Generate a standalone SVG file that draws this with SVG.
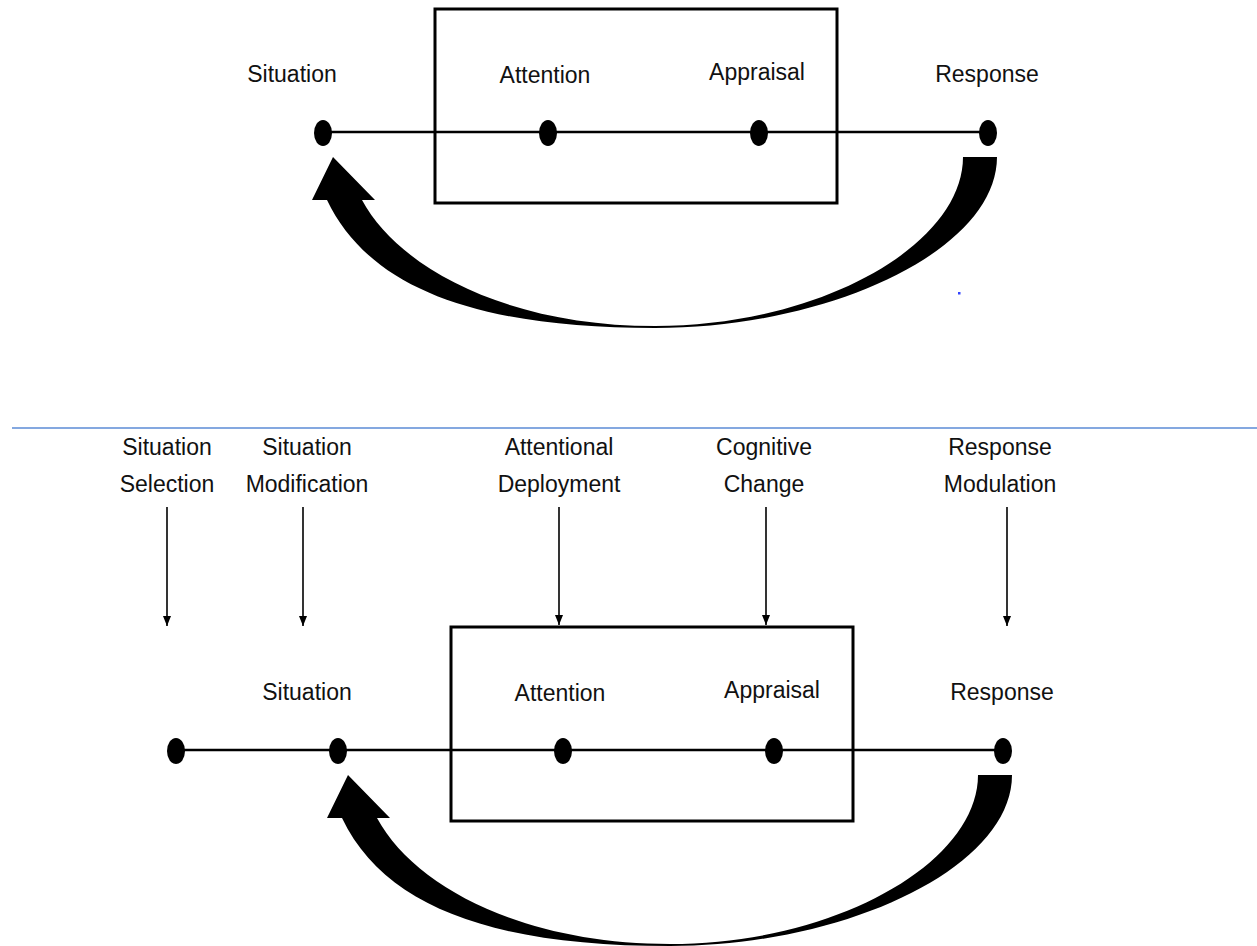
<svg xmlns="http://www.w3.org/2000/svg" width="1257" height="946" viewBox="0 0 1257 946">
<defs>
<style>
.lbl{font-family:"Liberation Sans",Arial,sans-serif;font-size:23px;fill:#111;text-anchor:middle}
.box{fill:none;stroke:#000;stroke-width:3}
.axis{stroke:#000;stroke-width:2.5;fill:none}
.dot{fill:#000}
.thin{stroke:#000;stroke-width:1.6;fill:none;marker-end:url(#ah)}
.big{fill:#000}
</style>
<marker id="ah" viewBox="0 0 10 8" refX="10" refY="4" markerWidth="10" markerHeight="8" markerUnits="userSpaceOnUse" orient="auto">
<path d="M0,0 L10,4 L0,8 Z" fill="#000"/>
</marker>
<path id="bigarrow" d="M963,157 L997,157 C997,250 830,328 655,328 C480,328 370,290 327,200 L312,200 L333,157 L375,200 L362,200 C400,270 510,326 655,326 C820,326 963,245 963,157 Z"/>
</defs>

<g id="top-diagram">
<g id="top-box"><rect class="box" x="435" y="9" width="402" height="194"/></g>
<g id="connectors-top">
<line class="axis" x1="323" y1="132" x2="988" y2="132"/>
<use href="#bigarrow" class="big"/>
</g>
<g id="top-situation"><ellipse class="dot" cx="323" cy="133" rx="9" ry="13"/><text class="lbl" x="292" y="82">Situation</text></g>
<g id="top-attention"><ellipse class="dot" cx="548" cy="133" rx="9" ry="13"/><text class="lbl" x="545" y="83">Attention</text></g>
<g id="top-appraisal"><ellipse class="dot" cx="759" cy="133" rx="9" ry="13"/><text class="lbl" x="757" y="80">Appraisal</text></g>
<g id="top-response"><ellipse class="dot" cx="988" cy="133" rx="9" ry="13"/><text class="lbl" x="987" y="82">Response</text></g>
<rect x="958" y="292" width="2.5" height="2.5" fill="#3344ff"/>
</g>

<line id="divider" x1="12" y1="428" x2="1257" y2="428" stroke="#5b8bd6" stroke-width="1.5"/>

<g id="strategies">
<g id="s-selection"><text class="lbl" x="167" y="455">Situation</text><text class="lbl" x="167" y="492">Selection</text></g>
<g id="s-modification"><text class="lbl" x="307" y="455">Situation</text><text class="lbl" x="307" y="492">Modification</text></g>
<g id="s-attentional"><text class="lbl" x="559" y="455">Attentional</text><text class="lbl" x="559" y="492">Deployment</text></g>
<g id="s-cognitive"><text class="lbl" x="764" y="455">Cognitive</text><text class="lbl" x="764" y="492">Change</text></g>
<g id="s-modulation"><text class="lbl" x="1000" y="455">Response</text><text class="lbl" x="1000" y="492">Modulation</text></g>
</g>

<g id="bottom-diagram">
<g id="bottom-box"><rect class="box" x="451" y="627" width="402" height="194"/></g>
<g id="connectors-bottom">
<line class="axis" x1="176" y1="750" x2="1003" y2="750"/>
<line class="thin" x1="167" y1="507" x2="167" y2="626"/>
<line class="thin" x1="303" y1="507" x2="303" y2="626"/>
<line class="thin" x1="559" y1="507" x2="559" y2="625"/>
<line class="thin" x1="766" y1="507" x2="766" y2="625"/>
<line class="thin" x1="1007" y1="507" x2="1007" y2="626"/>
<use href="#bigarrow" class="big" transform="translate(15,618)"/>
</g>
<g id="b-start"><ellipse class="dot" cx="176" cy="751" rx="9" ry="13"/></g>
<g id="b-situation"><ellipse class="dot" cx="338" cy="751" rx="9" ry="13"/><text class="lbl" x="307" y="700">Situation</text></g>
<g id="b-attention"><ellipse class="dot" cx="563" cy="751" rx="9" ry="13"/><text class="lbl" x="560" y="701">Attention</text></g>
<g id="b-appraisal"><ellipse class="dot" cx="774" cy="751" rx="9" ry="13"/><text class="lbl" x="772" y="698">Appraisal</text></g>
<g id="b-response"><ellipse class="dot" cx="1003" cy="751" rx="9" ry="13"/><text class="lbl" x="1002" y="700">Response</text></g>
</g>
</svg>
